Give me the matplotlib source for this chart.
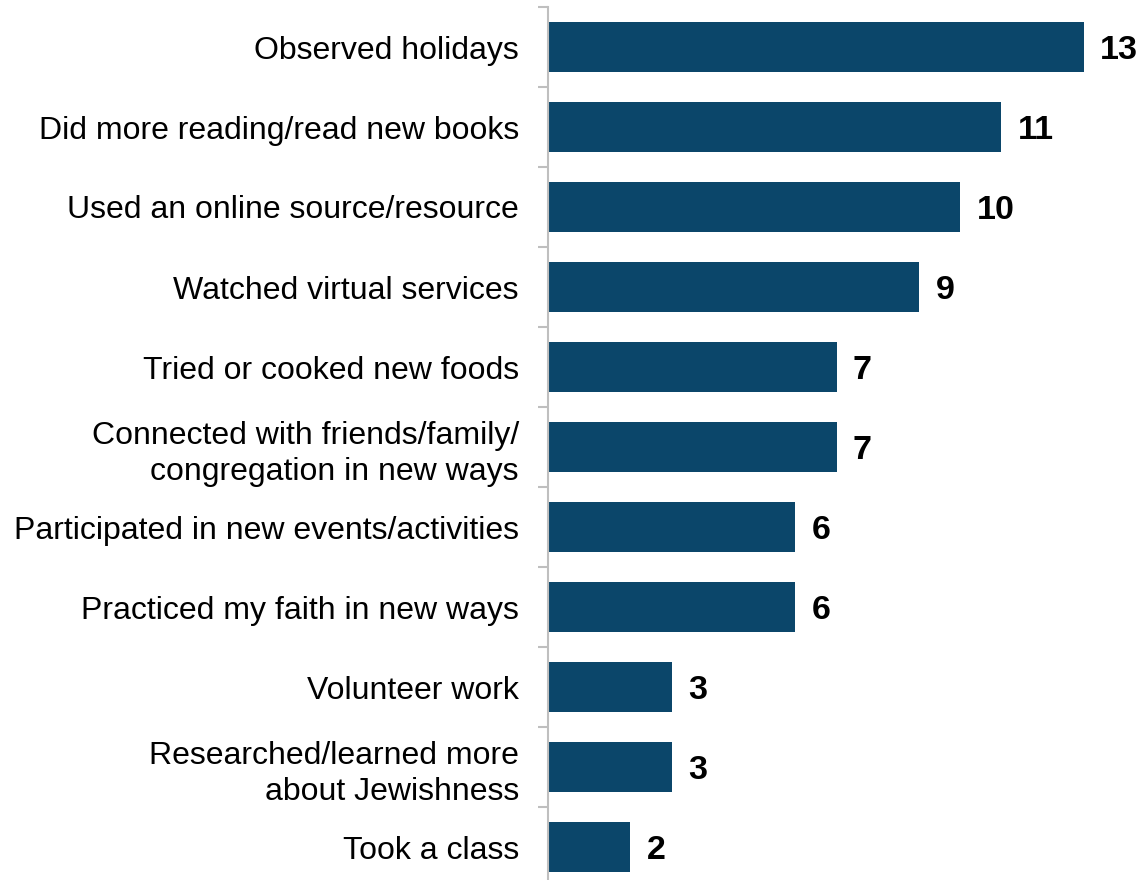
import matplotlib.pyplot as plt
import numpy as np

plt.rcParams['font.family'] = ['Liberation Sans', 'DejaVu Sans']

activities = [
    'Observed holidays',
    'Did more reading/read new books',
    'Used an online source/resource',
    'Watched virtual services',
    'Tried or cooked new foods',
    'Connected with friends/family/\ncongregation in new ways',
    'Participated in new events/activities',
    'Practiced my faith in new ways',
    'Volunteer work',
    'Researched/learned more\nabout Jewishness',
    'Took a class',
]
percent = [13, 11, 10, 9, 7, 7, 6, 6, 3, 3, 2]

BAR_COLOR = '#0B466A'
AXIS_GRAY = '#BFBFBF'


def plot_activities() -> None:
    """Horizontal bar chart of new activities, largest at the top."""
    fig = plt.figure(figsize=(11.45, 8.8), dpi=100)
    # axes box: left edge on the spine, bands of 80px per category
    ax = fig.add_axes([548 / 1145, -7 / 880, 577 / 1145, 1.0])

    y = np.arange(len(activities))
    ax.barh(y, percent, height=0.625, color=BAR_COLOR, zorder=2)

    for yi, val in zip(y, percent):
        ax.text(val + 0.40, yi, str(val), va='center_baseline', ha='left',
                fontsize=24.5, fontweight='bold', color='black',
                clip_on=False)

    ax.set_xlim(0, 14)
    ax.set_ylim(len(activities) - 0.5, -0.5)

    ax.set_yticks(y)
    ax.set_yticklabels(activities, fontsize=23, linespacing=1.3)
    ax.set_yticks(np.arange(len(activities) + 1) - 0.5, minor=True)
    ax.tick_params(axis='y', which='major', length=0, pad=21)
    ax.tick_params(axis='y', which='minor', length=7.5, width=1.5,
                   color=AXIS_GRAY)
    ax.set_xticks([])

    for side in ('top', 'right', 'bottom'):
        ax.spines[side].set_visible(False)
    ax.spines['left'].set_color(AXIS_GRAY)
    ax.spines['left'].set_linewidth(1.5)

    fig.savefig('out.png', dpi=100)


def main():
    plot_activities()


if __name__ == '__main__':
    main()
